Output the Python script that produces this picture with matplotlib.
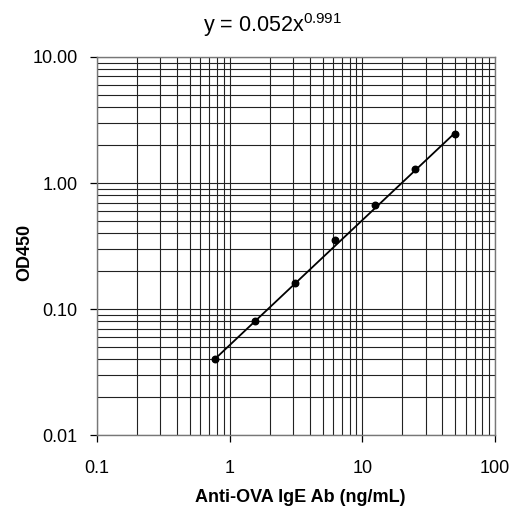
import numpy as np
import matplotlib.pyplot as plt
from matplotlib.ticker import FixedLocator, FixedFormatter, NullFormatter

plt.rcParams['font.family'] = ['Liberation Sans', 'DejaVu Sans']
plt.rcParams['mathtext.fontset'] = 'custom'
plt.rcParams['mathtext.rm'] = 'Liberation Sans'
plt.rcParams['mathtext.it'] = 'Liberation Sans'

conc = [0.78, 1.56, 3.125, 6.25, 12.5, 25, 50]
od450 = [0.040, 0.080, 0.162, 0.353, 0.669, 1.29, 2.45]
fit_a = 0.052
fit_b = 0.991
x_ticks = [0.1, 1, 10, 100]
x_labels = ['0.1', '1', '10', '100']
y_ticks = [0.01, 0.1, 1, 10]
y_labels = ['0.01', '0.10', '1.00', '10.00']

fig = plt.figure(figsize=(5.11, 5.08), dpi=100)
ax = fig.add_axes([0.19, 0.143, 0.779, 0.745])

xf = np.logspace(np.log10(conc[0]), np.log10(conc[-1]), 100)
ax.plot(xf, fit_a * xf ** fit_b, c='black', lw=1.3, zorder=3)
ax.scatter(conc, od450, c='black', s=22, zorder=4)

ax.set_xscale('log')
ax.set_yscale('log')
ax.set_xlim(0.1, 100)
ax.set_ylim(0.01, 10)

ax.xaxis.set_major_locator(FixedLocator(x_ticks))
ax.xaxis.set_major_formatter(FixedFormatter(x_labels))
ax.yaxis.set_major_locator(FixedLocator(y_ticks))
ax.yaxis.set_major_formatter(FixedFormatter(y_labels))
ax.xaxis.set_minor_formatter(NullFormatter())
ax.yaxis.set_minor_formatter(NullFormatter())

ax.grid(True, which='both', color='#222222', lw=0.8)
ax.tick_params(which='major', direction='out', length=5, width=0.9, labelsize=13)
ax.tick_params(axis='x', which='major', pad=13)
ax.tick_params(axis='y', which='major', pad=9)
ax.tick_params(which='minor', length=0)
for s in ax.spines.values():
    s.set_color('#777777')
    s.set_linewidth(1.0)

fig.text(300 / 511, 1 - 498 / 508, 'Anti-OVA IgE Ab (ng/mL)', fontsize=13,
         fontweight='bold', ha='center', va='center')
fig.text(25 / 511, 1 - 252 / 508, 'OD450', fontsize=13, fontweight='bold',
         rotation=90, ha='center', va='center')
fig.text(272 / 511, 1 - 25 / 508, r'y = 0.052x$^{0.991}$', fontsize=15.5,
         ha='center', va='center')

fig.savefig('out.png', dpi=100)
